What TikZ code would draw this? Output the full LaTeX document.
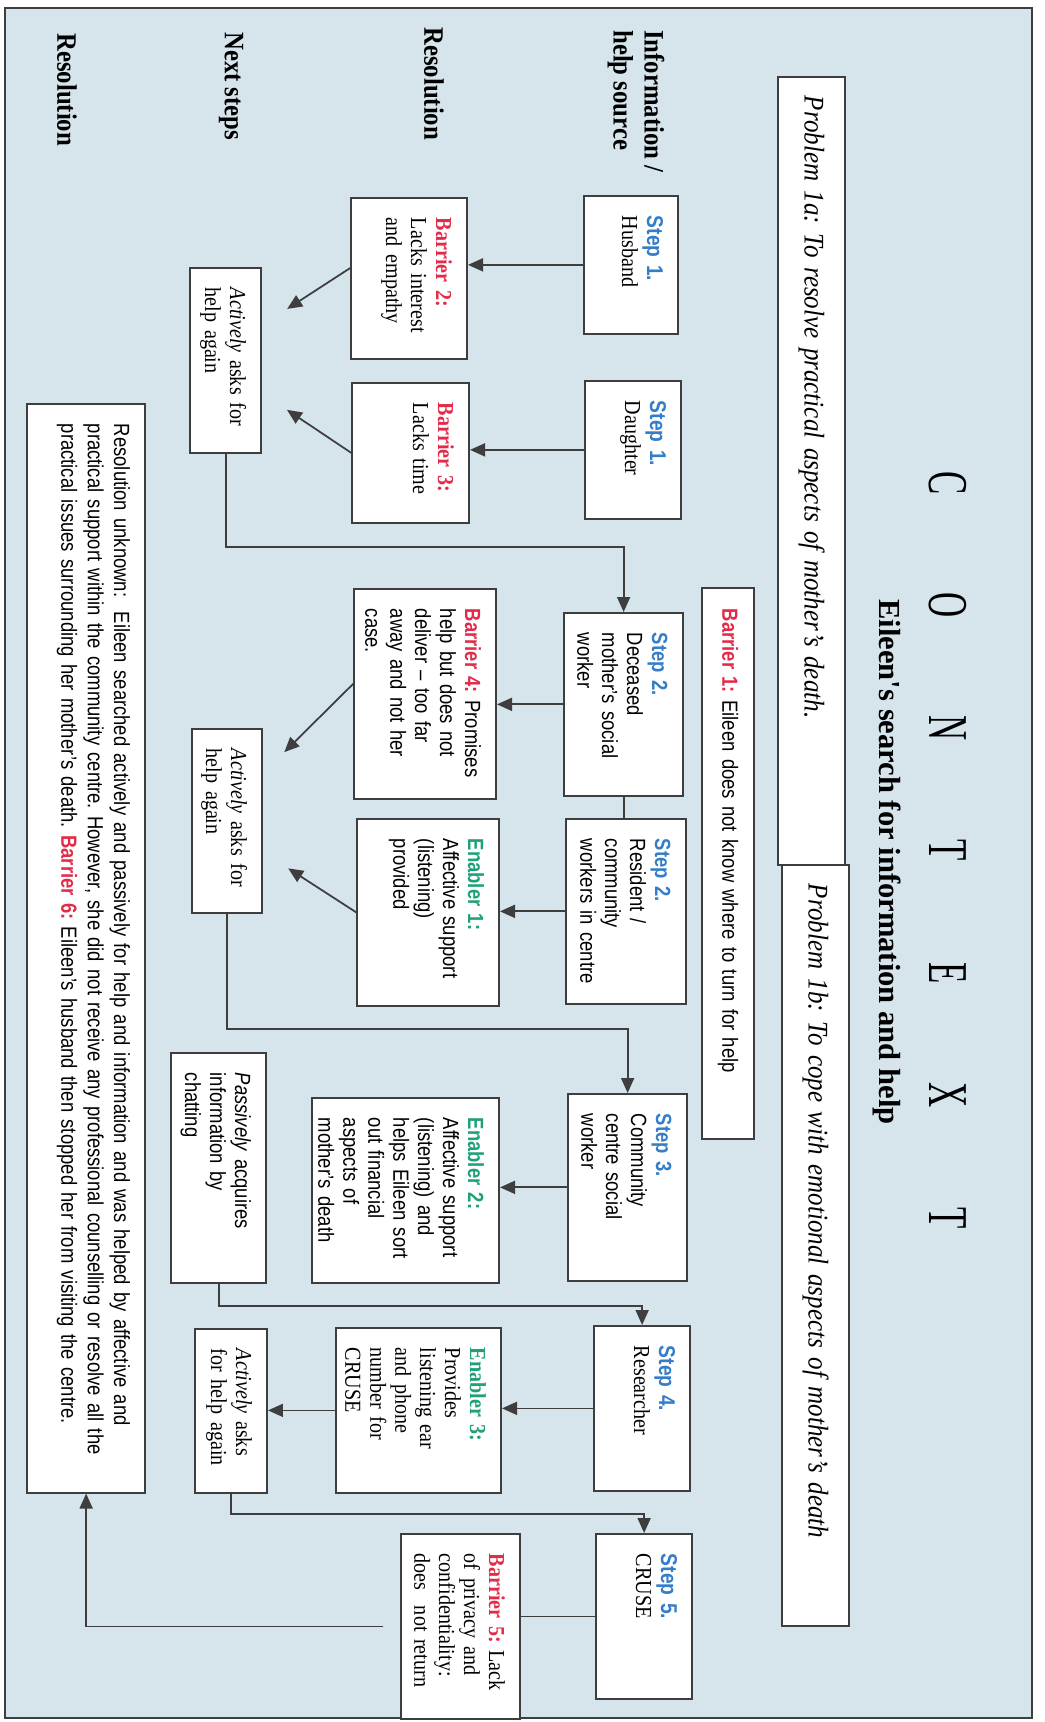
\documentclass[tikz,border=0pt]{standalone}
\usepackage{fontspec}
\setmainfont{Liberation Serif}[FakeStretch=0.88]
\setsansfont{Liberation Sans}[FakeStretch=0.84]
\newfontfamily\titlefont{Liberation Serif}
\newfontfamily\ctxfont{Liberation Serif}[FakeStretch=0.62]
\usetikzlibrary{arrows.meta}
\frenchspacing

\definecolor{paper}{RGB}{214,228,236}
\definecolor{ink}{RGB}{62,62,62}
\definecolor{stepblue}{RGB}{52,125,200}
\definecolor{barred}{RGB}{228,42,72}
\definecolor{enagreen}{RGB}{30,160,120}

\newcommand{\steplbl}[1]{{\sffamily\bfseries\color{stepblue}#1}}
\newcommand{\barlbl}[1]{{\bfseries\color{barred}#1}}
\newcommand{\enalbl}[1]{{\bfseries\color{enagreen}#1}}

\tikzset{
  bx/.style 2 args={draw=ink, line width=1pt, fill=white, anchor=north west,
    align=left, inner xsep=0.4cm, inner ysep=0.3cm,
    text width=#1cm-0.8cm, text height=0.32cm, text depth=#2cm-0.92cm},
  serifbox/.style={font=\fontsize{13}{14.2}\selectfont},
  sansbox/.style={font=\fontsize{12.5}{14.2}\selectfont\sffamily},
  resfont/.style={font=\fontsize{12.5}{15}\selectfont\sffamily},
  prob/.style={draw=ink, line width=1pt, fill=white, anchor=north west,
    align=left, minimum height=1.34cm, inner xsep=0.38cm,
    text width=#1cm-0.76cm, font=\fontsize{16.2}{18}\selectfont\itshape},
  wide/.style={draw=ink, line width=1pt, fill=white, anchor=north west,
    align=left, minimum height=1.04cm, inner xsep=0.42cm,
    text width=#1cm-0.84cm, font=\fontsize{12.5}{14.2}\selectfont\sffamily},
  hdr/.style={anchor=west, align=left, inner sep=0pt,
    font=\fontsize{16}{17.6}\selectfont\bfseries},
  ctx/.style={inner sep=0pt, font=\ctxfont\fontsize{32}{32}\selectfont},
  ttl/.style={inner sep=0pt, font=\titlefont\bfseries\fontsize{17.4}{20}\selectfont},
  arr/.style={draw=ink, line width=1pt, -{Triangle[length=0.3cm, width=0.26cm]}},
  ln/.style={draw=ink, line width=1pt},
  looseend/.style={shorten >=0.6cm}
}

\begin{document}
\begin{tikzpicture}[x=0.02cm, y=0.02cm]
    \useasboundingbox (0,0) rectangle (1045,-1722);

    % paper and frame
    \fill[paper] (5,-8) rectangle (1032,-1718);
    \draw[ink, line width=1.2pt] (5,-8) rectangle (1032,-1718);

    % the chart is set in landscape and turned a quarter
    \begin{scope}[rotate=-90, transform shape]

        % heading
        \foreach \ch [count=\i from 0] in {C,O,N,T,E,X,T}
            \node[ctx] (ctx\i) at ({483+122.5*\i},948) {\ch};
        \node[ttl] (title) at (862,887) {Eileen's search for information and help};

        % problems
        \node[prob={15.76}] (prob1a) at (76,846) {Problem 1a: To resolve practical aspects of mother's death.};
        \node[prob={15.22}] (prob1b) at (864,850) {Problem 1b: To cope with emotional aspects of mother's death};
        \node[wide={11.02}] (bar1) at (587,755) {\barlbl{Barrier 1:} Eileen does not know where to turn for help};

        % row labels
        \node[hdr] (hinfo) at (30,636) {Information /\\help source};
        \node[hdr] (hres1) at (27,434) {Resolution};
        \node[hdr] (hnext) at (32,231) {Next steps};
        \node[hdr] (hres2) at (33,67) {Resolution};

        % steps
        \node[bx={2.76}{1.88}, serifbox] (husb) at (195,679) {\steplbl{Step 1.}\\Husband};
        \node[bx={2.76}{1.92}, serifbox] (daug) at (380,682) {\steplbl{Step 1.}\\Daughter};
        \node[bx={3.66}{2.38}, sansbox] (dec) at (612,684) {\steplbl{Step 2.}\\Deceased\\mother's social\\worker};
        \node[bx={3.70}{2.40}, sansbox] (resi) at (818,687) {\steplbl{Step 2.}\\Resident /\\community\\workers in centre};
        \node[bx={3.74}{2.38}, sansbox] (comm) at (1093,688) {\steplbl{Step 3.}\\Community\\centre social\\worker};
        \node[bx={3.30}{1.92}, serifbox] (rsch) at (1325,691) {\steplbl{Step 4.}\\Researcher};
        \node[bx={3.30}{1.92}, serifbox] (crs) at (1533,693) {\steplbl{Step 5.}\\CRUSE};

        % barriers and enablers
        \node[bx={3.22}{2.32}, serifbox] (bar2) at (197,468) {\barlbl{Barrier 2:}\\Lacks interest\\and empathy};
        \node[bx={2.80}{2.34}, serifbox] (bar3) at (382,470) {\barlbl{Barrier 3:}\\Lacks time};
        \node[bx={4.20}{2.84}, sansbox] (bar4) at (588,497) {\barlbl{Barrier 4:} Promises\\help but does not\\deliver -- too far\\away and not her\\case.};
        \node[bx={3.74}{2.84}, sansbox] (enab1) at (818,500) {\enalbl{Enabler 1:}\\Affective support\\(listening)\\provided};
        \node[bx={3.70}{3.74}, sansbox] (enab2) at (1097,500) {\enalbl{Enabler 2:}\\Affective support\\(listening) and\\helps Eileen sort\\out financial\\aspects of\\mother's death};
        \node[bx={3.30}{3.30}, serifbox] (enab3) at (1327,502) {\enalbl{Enabler 3:}\\Provides\\listening ear\\and phone\\number for\\CRUSE};
        \node[bx={3.70}{2.38}, serifbox] (bar5) at (1533,521) {\barlbl{Barrier 5:} Lack\\of privacy and\\confidentiality:\\does\ \ not return};

        % next steps
        \node[bx={3.70}{1.42}, serifbox] (ask1) at (267,262) {\emph{Actively} asks for\\help again};
        \node[bx={3.68}{1.40}, serifbox] (ask2) at (728,263) {\emph{Actively} asks for\\help again};
        \node[bx={4.60}{1.90}, sansbox] (pass) at (1052,267) {\emph{Passively} acquires\\information by\\chatting};
        \node[bx={3.28}{1.44}, serifbox] (ask3) at (1328,268) {\emph{Actively} asks\\for help again};

        % resolution
        \node[bx={21.78}{2.36}, resfont] (res) at (403,146) {Resolution unknown:\ \ Eileen searched actively and passively for help and information and was helped by affective and\\practical support within the community centre. However, she did not receive any professional counselling or resolve all the\\practical issues surrounding her mother's death. \barlbl{Barrier 6:} Eileen's husband then stopped her from visiting the centre.};

        % steps down to barriers and enablers
        \draw[arr] (husb.south) -- (husb.south |- bar2.north);
        \draw[arr] (daug.south) -- (daug.south |- bar3.north);
        \draw[arr] (dec.south) -- (dec.south |- bar4.north);
        \draw[arr] (resi.south) -- (resi.south |- enab1.north);
        \draw[arr] (comm.south) -- (comm.south |- enab2.north);
        \draw[arr] (rsch.south) -- (rsch.south |- enab3.north);
        \draw[ln] (crs.south) -- (crs.south |- bar5.north);
        \draw[ln] (dec.east) -- (resi.west |- dec.east);

        % barriers and enablers down to next steps
        \draw[arr, looseend] (bar2.-100) -- (ask1.134);
        \draw[arr, looseend] (bar3.south) -- (ask1.48);
        \draw[arr, looseend] (bar4.-98) -- (ask2.143);
        \draw[arr, looseend] (enab1.south) -- (ask2.49);
        \draw[arr] (enab3.south) -- (enab3.south |- ask3.north);

        % next steps back up to the next source
        \draw[arr] (ask1.east) -- ++(93,0) |- (dec.west);
        \draw[arr] (ask2.east) -- ++(115,0) |- (comm.west);
        \draw[arr] (pass.east) -- ++(22,0) |- (rsch.west);
        \draw[arr] (ask3.east) -- ++(20,0) |- (crs.west);

        % barrier 5 to resolution
        \draw[arr, shorten <=0.34cm] (bar5.south) |- (res.east);
    \end{scope}
\end{tikzpicture}
\end{document}
